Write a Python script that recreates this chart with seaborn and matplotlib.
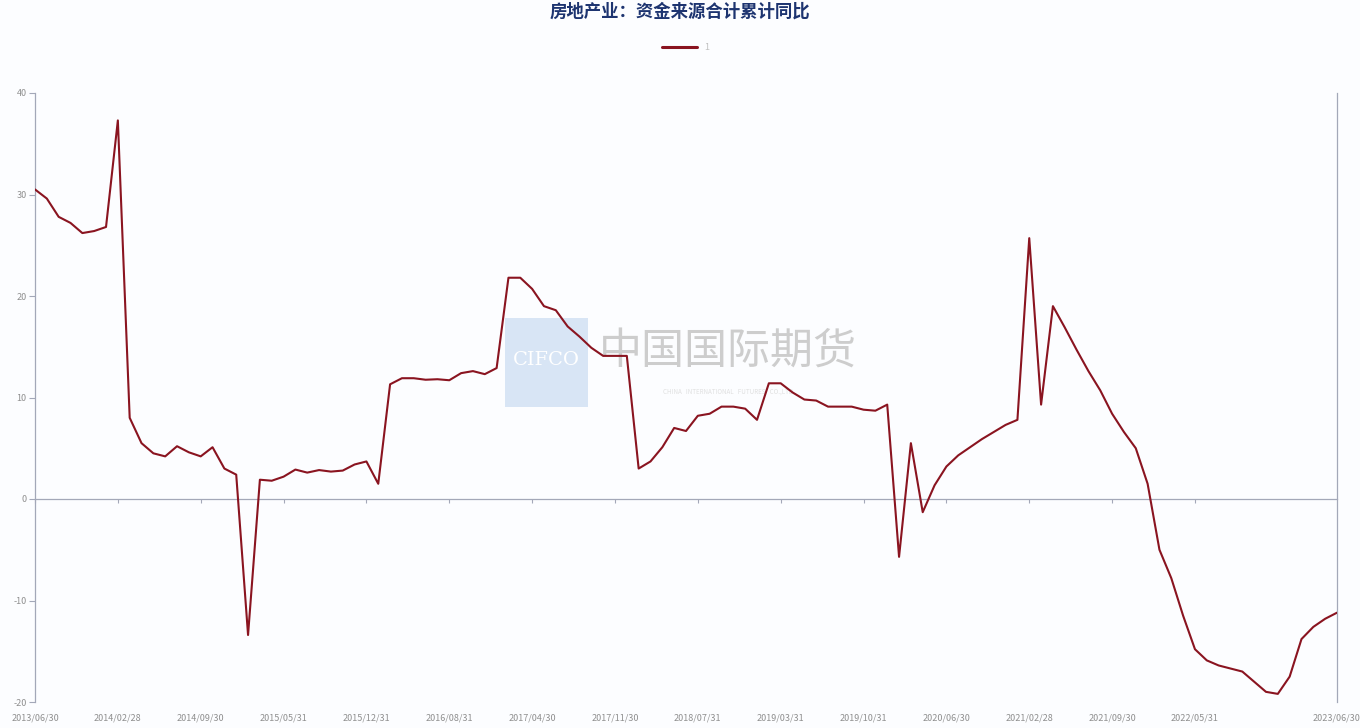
import numpy as np
import pandas as pd
import matplotlib
matplotlib.use("Agg")
import matplotlib.pyplot as plt
from matplotlib.patches import Rectangle
import seaborn as sns

# ---- data ----
dates = [d for d in pd.date_range("2013-06-30", "2023-06-30", freq="ME") if d.month != 1]
date_labels = [d.strftime("%Y/%m/%d") for d in dates]

values = [30.5, 29.6, 27.8, 27.2, 26.2, 26.4, 26.8, 37.3, 8.0, 5.5,
          4.5, 4.2, 5.2, 4.6, 4.2, 5.1, 3.0, 2.4, -13.4, 1.9,
          1.8, 2.2, 2.9, 2.6, 2.85, 2.7, 2.8, 3.4, 3.7, 1.5,
          11.3, 11.9, 11.9, 11.75, 11.8, 11.7, 12.4, 12.6, 12.3, 12.9,
          21.8, 21.8, 20.7, 19.0, 18.6, 17.0, 16.0, 14.9, 14.1, 14.1,
          14.1, 3.0, 3.7, 5.1, 7.0, 6.7, 8.2, 8.4, 9.1, 9.1,
          8.9, 7.8, 11.4, 11.4, 10.5, 9.8, 9.7, 9.1, 9.1, 9.1,
          8.8, 8.7, 9.3, -5.7, 5.5, -1.3, 1.35, 3.2, 4.3, 5.1,
          5.9, 6.6, 7.3, 7.8, 25.7, 9.3, 19.0, 16.9, 14.7, 12.6,
          10.7, 8.4, 6.6, 5.0, 1.5, -5.0, -7.8, -11.5, -14.8, -15.9,
          -16.4, -16.7, -17.0, -18.0, -19.0, -19.2, -17.5, -13.8, -12.6, -11.8,
          -11.2]

series_name = "1"
title_text = "房地产业：资金来源合计累计同比"
y_ticks = [-20, -10, 0, 10, 20, 30, 40]

df = pd.DataFrame({"idx": np.arange(len(values)), "value": values, "series": series_name})

# ---- style ----
sns.set_theme(style="white")
plt.rcParams["font.family"] = ["Noto Sans CJK SC", "DejaVu Sans"]

W, H = 1360, 728
fig = plt.figure(figsize=(W / 100, H / 100), dpi=100, facecolor="#fcfdff")
ax = fig.add_axes([35 / W, 1 - 702 / H, (1337 - 35) / W, (702 - 93) / H])
ax.set_facecolor("none")
ax.patch.set_alpha(0)

line_color = "#8a1420"
axis_color = "#a3a8b8"
label_color = "#8f8f8f"

sns.lineplot(data=df, x="idx", y="value", ax=ax, color=line_color, linewidth=1.5,
             legend=False, zorder=5)

# watermark (drawn under the line)
fig.patches.append(Rectangle((505 / W, 1 - 407 / H), 83 / W, 89 / H, transform=fig.transFigure,
                             facecolor="#d5e3f4", edgecolor="none", alpha=0.9, zorder=-2))
fig.text(546 / W, 1 - 360 / H, "CIFCO", color="white", fontsize=14, family="DejaVu Serif",
         ha="center", va="center", zorder=-1)
fig.text(728 / W, 1 - 352 / H, "中国国际期货", color="#cdcdcd", fontsize=31,
         ha="center", va="center", zorder=-1)
fig.text(728 / W, 1 - 392 / H, "CHINA   INTERNATIONAL   FUTURES   CO.,LTD", color="#e0e0e0", fontsize=4.5,
         ha="center", va="center", zorder=-1)

ax.set_xlim(0, len(values) - 1)
ax.set_ylim(-20, 40)

# y axis
ax.set_yticks(y_ticks)
ax.set_yticklabels([str(v) for v in y_ticks])
ax.tick_params(axis="y", direction="out", length=4, width=0.8, color=axis_color,
               labelsize=6.5, labelcolor=label_color, pad=2, left=True)

# x labels at the bottom (every 7th point + last)
tick_idx = list(range(0, len(values) - 6, 7)) + [len(values) - 1]
ax.set_xticks(tick_idx)
ax.set_xticklabels([date_labels[i] for i in tick_idx])
ax.tick_params(axis="x", length=0, labelsize=6.5, labelcolor=label_color, pad=8)

for s in ["top", "bottom"]:
    ax.spines[s].set_visible(False)
for s in ["left", "right"]:
    ax.spines[s].set_visible(True)
    ax.spines[s].set_color(axis_color)
    ax.spines[s].set_linewidth(0.9)

# x axis line on zero with small ticks
sec = ax.secondary_xaxis(1 / 3)
sec.set_xticks(tick_idx[:-1])
sec.set_xticklabels([])
sec.tick_params(axis="x", direction="out", length=3, width=0.8, color=axis_color)
sec.spines["bottom"].set_color(axis_color)
sec.spines["bottom"].set_linewidth(0.9)
for s in ["top", "left", "right"]:
    sec.spines[s].set_visible(False)

ax.set_xlabel("")
ax.set_ylabel("")
ax.grid(False)

# title and legend
fig.text(0.5, 1 - 12 / H, title_text, ha="center", va="center", fontsize=12.5,
         fontweight="bold", color="#1d3470")
fig.add_artist(plt.Line2D([662 / W, 697 / W], [1 - 47 / H, 1 - 47 / H], color=line_color,
                          linewidth=2.2, transform=fig.transFigure))
fig.text(704 / W, 1 - 47 / H, series_name, ha="left", va="center", fontsize=6.5, color="#c0c0c0")

fig.savefig("out.png", dpi=100, facecolor=fig.get_facecolor())
